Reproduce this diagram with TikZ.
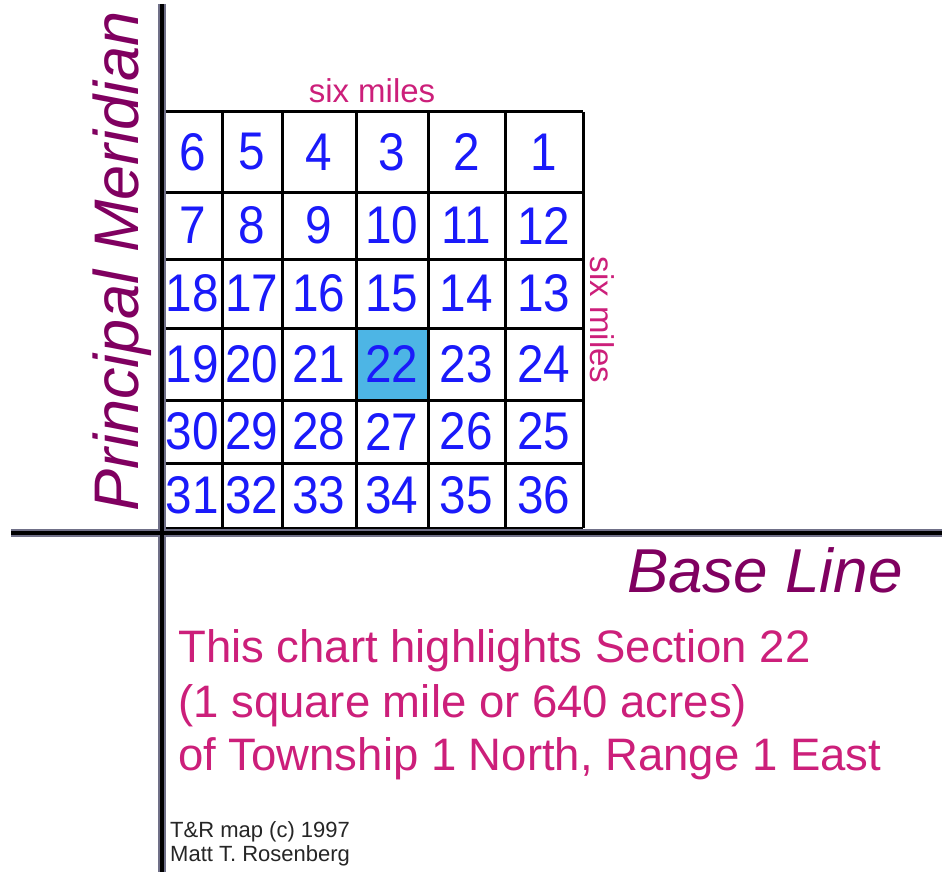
\documentclass[tikz,border=0pt]{standalone}
\usepackage{fontspec}
\setmainfont{Liberation Sans}
\definecolor{numblue}{RGB}{26,26,250}
\definecolor{pinktxt}{RGB}{204,31,122}
\definecolor{purptxt}{RGB}{128,0,96}
\definecolor{hilite}{RGB}{77,181,229}
\definecolor{axisgray}{RGB}{112,112,136}
\begin{document}
\begin{tikzpicture}[x=1pt,y=-1pt,
  num/.style={inner sep=0pt,text=numblue,font=\fontsize{53}{53}\selectfont},
  gridline/.style={line width=3pt,black},
  axisback/.style={line width=8pt,axisgray},
  axisfront/.style={line width=3.5pt,black},
  pinklabel/.style={inner sep=0pt,text=pinktxt},
  purplabel/.style={inner sep=0pt,text=purptxt,font=\fontsize{62}{62}\selectfont\itshape},
  credit/.style={inner sep=0pt,text=black!85,font=\fontsize{22}{22}\selectfont}]
\useasboundingbox[fill=white] (0,0) rectangle (942,872);
% highlighted section 22
\fill[hilite] (356,328) rectangle (428,400);
% grid
\foreach \x in {222,282,356,428,505,583} \draw[gridline] (\x,112) -- (\x,528);
\foreach \y in {112,192,259,328,400,463,528} \draw[gridline] (158,\y) -- (583,\y);
% axes
\coordinate (mtop) at (162,4);
\coordinate (mbot) at (162,872);
\coordinate (bleft) at (11,533);
\coordinate (bright) at (942,533);
\draw[axisback] (mtop) -- (mbot);
\draw[axisback] (bleft) -- (bright);
\draw[axisfront] (mtop) -- (mbot);
\draw[axisfront] (bleft) -- (bright);
% numbers
\def\cols{{192.5,252,319,392,466.5,544}}
\def\rows{{152,225.5,293.5,364,431.5,495.5}}
\foreach \n/\c/\r in {6/0/0,5/1/0,4/2/0,3/3/0,2/4/0,1/5/0,
  7/0/1,8/1/1,9/2/1,10/3/1,11/4/1,12/5/1,
  18/0/2,17/1/2,16/2/2,15/3/2,14/4/2,13/5/2,
  19/0/3,20/1/3,21/2/3,22/3/3,23/4/3,24/5/3,
  30/0/4,29/1/4,28/2/4,27/3/4,26/4/4,25/5/4,
  31/0/5,32/1/5,33/2/5,34/3/5,35/4/5,36/5/5}
  \node[num] (s\n) at ({\cols[\c]},{\rows[\r]}) {\scalebox{0.9}[1]{\n}};
% labels
\node[pinklabel,anchor=base,font=\fontsize{33}{33}\selectfont] (topsix) at (372,103) {six miles};
\node[pinklabel,anchor=base,rotate=-90,font=\fontsize{33}{33}\selectfont] (rightsix) at (590,320) {six miles};
\node[purplabel,anchor=base,rotate=90,font=\fontsize{63}{63}\selectfont\itshape] (meridian) at (138,261.5) {Principal Meridian};
\node[purplabel,anchor=base east] (baseline) at (903,592) {Base Line};
\node[pinklabel,anchor=base west,font=\fontsize{45.5}{45.5}\selectfont] (p1) at (178,662) {This chart highlights Section 22};
\node[pinklabel,anchor=base west,font=\fontsize{45.5}{45.5}\selectfont] (p2) at (178,717) {(1 square mile or 640 acres)};
\node[pinklabel,anchor=base west,font=\fontsize{45.5}{45.5}\selectfont] (p3) at (178,770) {of Township 1 North, Range 1 East};
\node[credit,anchor=base west] (c1) at (170,837) {T\&R map (c) 1997};
\node[credit,anchor=base west] (c2) at (170,861) {Matt T. Rosenberg};
\end{tikzpicture}
\end{document}
